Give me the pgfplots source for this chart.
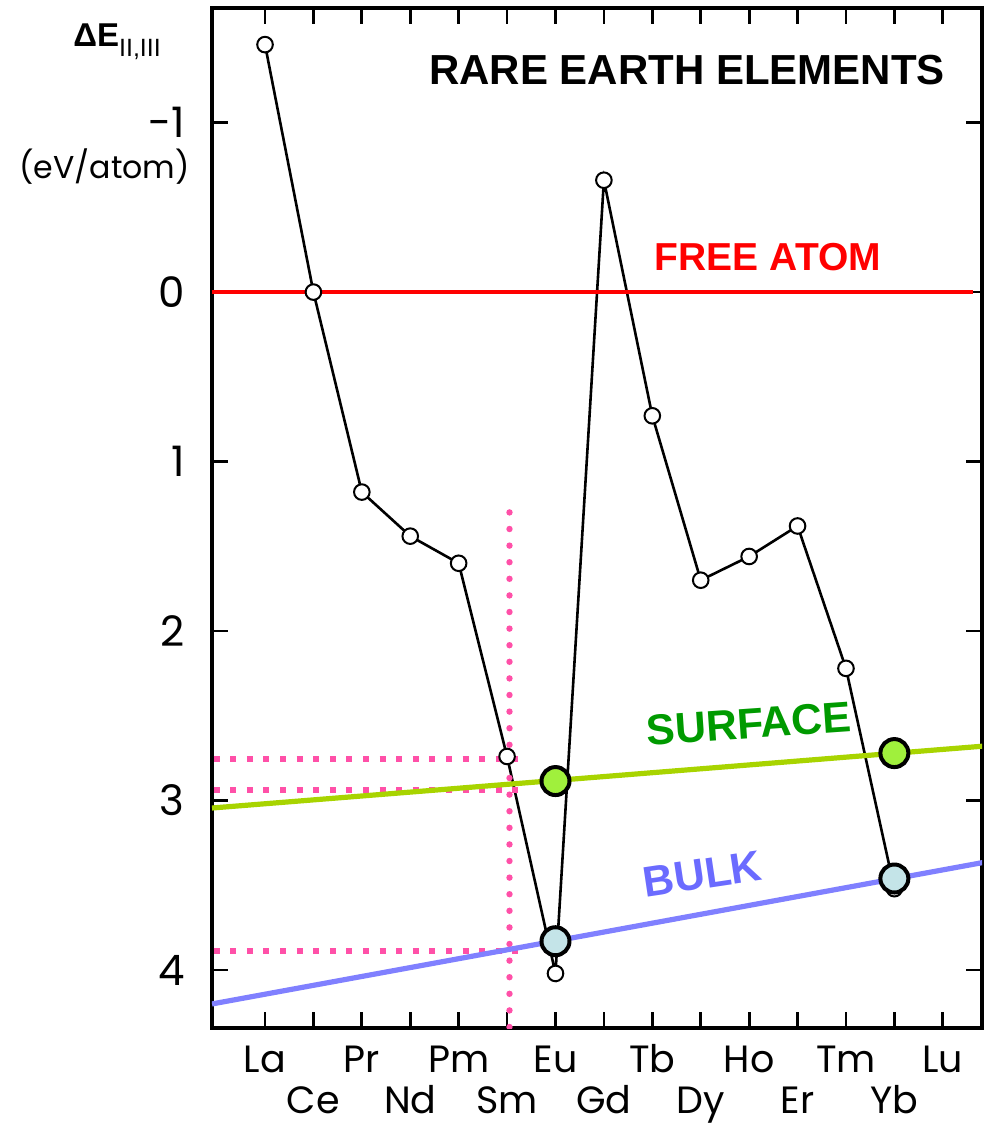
\documentclass[border=0pt]{standalone}
\usepackage{pgfplots}
\usepackage{pgfplotstable}
\pgfplotsset{compat=1.18}
\usepackage{fontspec}
\setmainfont{Liberation Sans}
\newfontfamily\geo{Poppins}

\definecolor{surfline}{HTML}{A8D400}
\definecolor{surffill}{HTML}{A0F03C}
\definecolor{surftext}{HTML}{009A00}
\definecolor{bulkline}{HTML}{8080FF}
\definecolor{bulkfill}{HTML}{C4E4E8}
\definecolor{bulktext}{HTML}{6B6BFF}
\definecolor{guide}{HTML}{FF50A8}

% Delta E_{II,III} (eV/atom) across the lanthanide series, La = 0 ... Yb = 13
\pgfplotstableread{
idx  dE
0   -1.46
1    0.00
2    1.18
3    1.44
4    1.60
5    2.74
6    4.02
7   -0.66
8    0.73
9    1.70
10   1.56
11   1.38
12   2.22
13   3.52
}\deltaE

\begin{document}
\begin{tikzpicture}
\useasboundingbox (0,0) rectangle (492.5pt,562.5pt);
\begin{axis}[
  at={(106pt,48.5pt)}, anchor=south west,
  scale only axis, width=385pt, height=510pt,
  xmin=-1.095, xmax=14.81,
  ymin=-1.676, ymax=4.342, y dir=reverse,
  axis line style={line width=1.6pt},
  tick style={line width=1.4pt, black},
  major tick length=8pt,
  tick align=inside,
  xtick={0,2,...,14},
  xticklabels={La,Pr,Pm,Eu,Tb,Ho,Tm,Lu},
  extra x ticks={1,3,...,13},
  extra x tick labels={Ce,Nd,Sm,Gd,Dy,Er,Yb},
  extra x tick style={xticklabel style={yshift=-20.5pt}},
  xticklabel style={font=\geo\fontsize{19}{19}\selectfont, anchor=base, inner sep=0pt, yshift=-22pt},
  ytick={-1,0,1,2,3,4},
  yticklabels={-1,0,1,2,3,4},
  yticklabel style={font=\geo\fontsize{21}{21}\selectfont, anchor=east, inner sep=0pt, xshift=-13.5pt},
]
% measured energies
\addplot[black, line width=1.3pt, mark=*, mark size=3.9pt,
  mark options={fill=white, draw=black, line width=1pt}] table[x=idx, y=dE] {\deltaE};

% reading guides at Sm
\addplot[guide, line width=3.2pt, line cap=round, dash pattern=on 0pt off 8.3pt]
  coordinates {(5.05,1.30) (5.05,4.40)};
\addplot[guide, line width=3pt, dash pattern=on 3pt off 5.3pt]
  coordinates {(-1.06,2.757) (5.23,2.757)};
\addplot[guide, line width=3pt, dash pattern=on 3pt off 5.3pt]
  coordinates {(-1.06,2.94) (5.23,2.94)};
\addplot[guide, line width=3pt, dash pattern=on 3pt off 5.3pt]
  coordinates {(-1.06,3.89) (5.23,3.89)};

% free atom reference
\addplot[red, line width=2pt] coordinates {(-1.095,0) (14.63,0)};
% surface and bulk trend lines
\addplot[surfline, line width=2.6pt] coordinates {(-1.095,3.044) (14.88,2.678)};
\addplot[bulkline, line width=2.6pt] coordinates {(-1.095,4.20) (14.88,3.363)};

% divalent Eu and Yb
\addplot[only marks, mark=*, mark size=7pt,
  mark options={fill=surffill, draw=black, line width=2pt}]
  coordinates {(6,2.885) (13,2.72)};
\addplot[only marks, mark=*, mark size=7pt,
  mark options={fill=bulkfill, draw=black, line width=2pt}]
  coordinates {(6,3.83) (13,3.46)};
\end{axis}

\node[anchor=base west, inner sep=0pt, font=\bfseries\fontsize{16.5}{16.5}\selectfont]
  at (36.5pt,539pt) {ΔE\raisebox{-5pt}{\mdseries\fontsize{12.5}{12.5}\selectfont II,III}};
\node[inner sep=0pt, font=\geo\fontsize{15.8}{15.8}\selectfont] at (52.25pt,479pt) {(eV/atom)};
\node[anchor=base, inner sep=0pt, font=\bfseries\fontsize{21}{21}\selectfont]
  at (343.5pt,520pt) {RARE EARTH ELEMENTS};
\node[anchor=base, inner sep=0pt, text=red, font=\bfseries\fontsize{19.5}{19.5}\selectfont]
  at (384pt,427pt) {FREE ATOM};
\node[rotate=4, inner sep=0pt, text=surftext, font=\bfseries\fontsize{21.5}{21.5}\selectfont]
  at (374.5pt,200.5pt) {SURFACE};
\node[rotate=8.5, inner sep=0pt, text=bulktext, font=\bfseries\fontsize{21.5}{21.5}\selectfont]
  at (351.25pt,125.5pt) {BULK};
\end{tikzpicture}
\end{document}
